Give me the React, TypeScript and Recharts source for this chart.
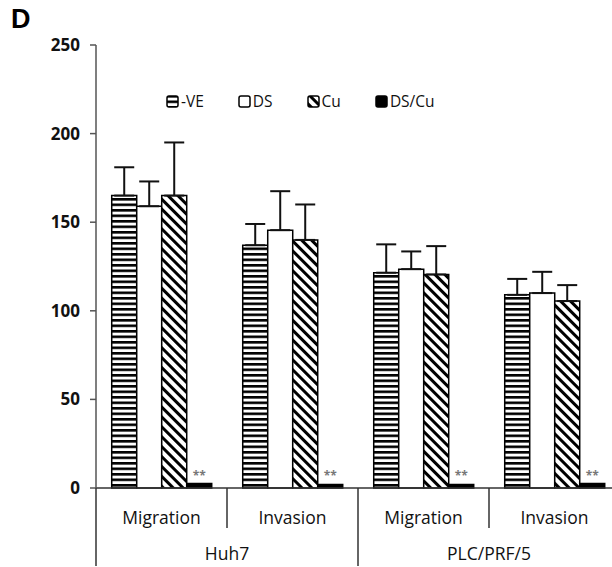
import { Bar, BarChart, ErrorBar, LabelList, XAxis, YAxis } from 'recharts';

const categories = ['Migration', 'Invasion', 'Migration', 'Invasion'];
const cellLines = ['Huh7', 'Huh7', 'PLC/PRF/5', 'PLC/PRF/5'];
const veValues = [165, 137, 121.5, 109];
const veErrors = [16, 12, 16, 9];
const dsValues = [159, 145.5, 123.5, 110];
const dsErrors = [14, 22, 10, 12];
const cuValues = [165, 140, 120.5, 105.5];
const cuErrors = [30, 20, 16, 9];
const dsCuValues = [2.5, 2, 2, 2.5];
const yTicks = [0, 50, 100, 150, 200, 250];

const data = categories.map((c, i) => ({
    id: `${cellLines[i]}-${c}`,
    ve: veValues[i],
    veErr: [0, veErrors[i]],
    ds: dsValues[i],
    dsErr: [0, dsErrors[i]],
    cu: cuValues[i],
    cuErr: [0, cuErrors[i]],
    dscu: dsCuValues[i],
}));

const CHART_W = 625;
const CHART_H = 567;
const MARGIN = { top: 45, right: 5, bottom: 0, left: 0 };
const Y_AXIS_W = 96;
const BAND = (CHART_W - MARGIN.left - MARGIN.right - Y_AXIS_W) / categories.length;
const FONT = '"Open Sans", sans-serif';

const legendItems = [
    { label: '-VE', fill: 'url(#hstripe)' },
    { label: 'DS', fill: '#fff' },
    { label: 'Cu', fill: 'url(#dstripe)' },
    { label: 'DS/Cu', fill: '#000' },
];

function CategoryTick(props: any) {
    const { x, y, index } = props;
    const left = x - BAND / 2;
    const groupStart = index === 0 || cellLines[index] !== cellLines[index - 1];
    const isLast = index === categories.length - 1;
    return (
        <g>
            <line x1={left} y1={y} x2={left} y2={y + (groupStart ? 78 : 40)} stroke="#333" strokeWidth={1.5} />
            {isLast && (
                <line x1={left + BAND} y1={y} x2={left + BAND} y2={y + 78} stroke="#333" strokeWidth={1.5} />
            )}
            <text x={x} y={y + 36} textAnchor="middle" fontFamily={FONT} fontSize={17.5} fill="#111">
                {categories[index]}
            </text>
            {groupStart && (
                <text x={x + BAND / 2} y={y + 72} textAnchor="middle" fontFamily={FONT} fontSize={17.5} fill="#111">
                    {cellLines[index]}
                </text>
            )}
        </g>
    );
}

function ChartLegend() {
    return (
        <div
            style={{
                position: 'absolute',
                top: 90,
                left: 166,
                display: 'flex',
                gap: 34,
                fontFamily: FONT,
                fontSize: 15.5,
                color: '#111',
            }}
        >
            {legendItems.map((item) => (
                <div key={item.label} style={{ display: 'flex', alignItems: 'center', gap: 2 }}>
                    <svg width={13} height={13}>
                        <rect x={1} y={1} width={11} height={11} rx={2} fill={item.fill} stroke="#000" strokeWidth={1.5} />
                    </svg>
                    <span>{item.label}</span>
                </div>
            ))}
        </div>
    );
}

export default function App() {
    return (
        <div style={{ position: 'absolute', left: 0, top: 0, width: 612, height: 567, overflow: 'hidden', background: '#fff' }}>
            <div style={{ position: 'absolute', left: 11, top: 4, fontFamily: '"Liberation Sans", Arial, sans-serif', fontWeight: 700, fontSize: 27 }}>
                D
            </div>
            <BarChart width={CHART_W} height={CHART_H} data={data} margin={MARGIN} barCategoryGap="12%" barGap={0}>
                <defs>
                    <pattern id="hstripe" patternUnits="userSpaceOnUse" width={6} height={5.5}>
                        <rect width={6} height={5.5} fill="#fff" />
                        <rect width={6} height={2.6} fill="#000" />
                    </pattern>
                    <pattern id="dstripe" patternUnits="userSpaceOnUse" width={7} height={7} patternTransform="rotate(-45)">
                        <rect width={7} height={7} fill="#fff" />
                        <rect width={3} height={7} fill="#000" />
                    </pattern>
                </defs>
                <XAxis
                    dataKey="id"
                    height={CHART_H - 488}
                    tickLine={false}
                    tickSize={0}
                    tickMargin={0}
                    axisLine={{ stroke: '#333', strokeWidth: 1.5 }}
                    tick={<CategoryTick />}
                    interval={0}
                />
                <YAxis
                    width={Y_AXIS_W}
                    domain={[0, 250]}
                    ticks={yTicks}
                    tickSize={6}
                    tickMargin={10}
                    axisLine={{ stroke: '#555', strokeWidth: 1.5 }}
                    tickLine={{ stroke: '#555', strokeWidth: 1.5 }}
                    tick={{ fill: '#111', fontFamily: FONT, fontSize: 17, fontWeight: 700 }}
                />
                <Bar dataKey="ve" fill="url(#hstripe)" stroke="#000" strokeWidth={1.5} isAnimationActive={false}>
                    <ErrorBar dataKey="veErr" direction="y" width={10} stroke="#111" strokeWidth={2} />
                </Bar>
                <Bar dataKey="ds" fill="#fff" stroke="#000" strokeWidth={1.5} isAnimationActive={false}>
                    <ErrorBar dataKey="dsErr" direction="y" width={10} stroke="#111" strokeWidth={2} />
                </Bar>
                <Bar dataKey="cu" fill="url(#dstripe)" stroke="#000" strokeWidth={1.5} isAnimationActive={false}>
                    <ErrorBar dataKey="cuErr" direction="y" width={10} stroke="#111" strokeWidth={2} />
                </Bar>
                <Bar dataKey="dscu" fill="#000" stroke="#000" strokeWidth={1.5} isAnimationActive={false}>
                    <LabelList dataKey="dscu" position="top" offset={4} formatter={() => '**'} fill="#777" fontSize={12} fontFamily={FONT} fontWeight={700} />
                </Bar>
            </BarChart>
            <ChartLegend />
        </div>
    );
}
